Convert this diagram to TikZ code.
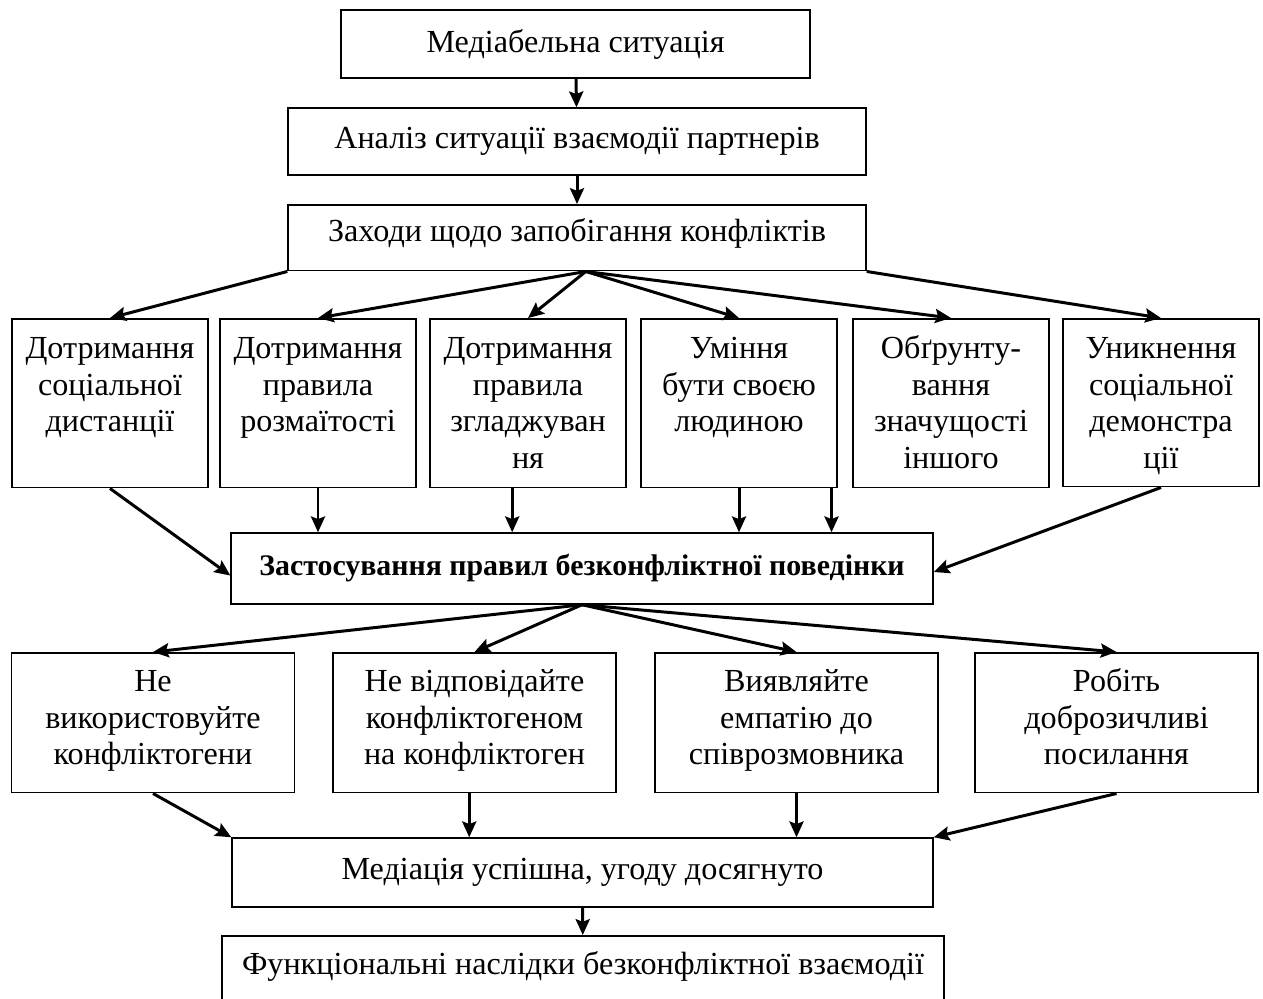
\documentclass[tikz,border=0pt]{standalone}
\usepackage{fontspec}
\setmainfont{Liberation Serif}
\usepackage{tikz}
\usetikzlibrary{positioning,arrows.meta}

\begin{document}
\begin{tikzpicture}[x=0.02cm, y=-0.02cm, >={Stealth[length=9pt,width=8pt,inset=1.5pt]},
  every node/.style={font=\fontsize{18.3}{20.8}\selectfont}]
\tikzset{
  box/.style={
    draw,
    line width=0.85pt,
    align=flush center,
    inner sep=0pt,
  },
  tallbox/.style={
    box,
    anchor=north,
    text width=3.92cm,
    text height=0.8cm,
  },
  widebox/.style={
    box,
    anchor=north,
    text width=5.66cm,
    text height=0.78cm,
    text depth=2.02cm,
  },
  link/.style={->, line width=1.7pt},
}
\useasboundingbox (0,0) rectangle (1263,998);

\node[box, minimum width=9.38cm, minimum height=1.36cm] (situation) at (575.5,44) {Медіабельна ситуація};
\node[box, minimum width=11.56cm, minimum height=1.34cm] (analysis) at (577,141.5) {Аналіз ситуації взаємодії партнерів};
\node[box, anchor=north, text width=11.56cm, text height=0.74cm, text depth=0.58cm] (measures) at (577,204) {Заходи щодо запобігання конфліктів};

\node[tallbox, text depth=2.58cm] (distance) at (110,318) {Дотримання\\соціальної\\дистанції};
\node[tallbox, text depth=2.58cm] (variety) at (318,318) {Дотримання\\правила\\розмаїтості};
\node[tallbox, text depth=2.58cm] (smoothing) at (528,318) {Дотримання\\правила\\згладжуван\\ня};
\node[tallbox, text depth=2.58cm] (oneself) at (739,318) {Уміння\\бути своєю\\людиною};
\node[tallbox, text depth=2.58cm] (grounding) at (951,318) {Обґрунту-\\вання\\значущості\\іншого};
\node[tallbox, text depth=2.56cm] (avoiding) at (1161,318) {Уникнення\\соціальної\\демонстра\\ції};

\node[box, minimum width=14.04cm, minimum height=1.42cm, font=\fontsize{17}{20.8}\selectfont\bfseries] (rules) at (582,568.5) {Застосування правил безконфліктної поведінки};

\node[widebox] (nouse) at (153,652) {Не\\використовуйте\\конфліктогени};
\node[widebox] (noreply) at (474.5,652) {Не відповідайте\\конфліктогеном\\на конфліктоген};
\node[widebox] (empathy) at (796.5,652) {Виявляйте\\емпатію до\\співрозмовника};
\node[widebox] (friendly) at (1116.5,652) {Робіть\\доброзичливі\\посилання};

\node[box, minimum width=14.02cm, minimum height=1.38cm] (success) at (582.5,872.5) {Медіація успішна, угоду досягнуто};
\node[box, anchor=north, text width=14.44cm, text height=0.78cm, text depth=1.1cm] (result) at (583,935) {Функціональні наслідки безконфліктної взаємодії};

\draw[link] (situation) -- (analysis);
\draw[link] (analysis) -- (measures);

\draw[link] (measures.south west) -- (distance.north);
\draw[link] ([xshift=5]measures.south) -- (variety.north);
\draw[link] ([xshift=5]measures.south) -- (smoothing.north);
\draw[link] ([xshift=5]measures.south) -- (oneself.north);
\draw[link] ([xshift=5]measures.south) -- (grounding.north);
\draw[link] (measures.south east) -- (avoiding.north);

\draw[link] (distance.south) -- ([yshift=-4]rules.west);
\draw[link] (variety.south) -- (variety.south |- rules.north);
\draw[link] ([xshift=-9]smoothing.south) -- ([xshift=-9]smoothing.south |- rules.north);
\draw[link] (oneself.south) -- (oneself.south |- rules.north);
\draw[link] ([xshift=-68]grounding.south) -- ([xshift=-68]grounding.south |- rules.north);
\draw[link] (avoiding.south) -- ([yshift=-2]rules.east);

\draw[link] (rules.south) -- (nouse.north);
\draw[link] (rules.south) -- (noreply.north);
\draw[link] (rules.south) -- (empathy.north);
\draw[link] (rules.south) -- (friendly.north);

\draw[link] (nouse.south) -- (success.north west);
\draw[link] ([xshift=-3]noreply.south) -- ([xshift=-3]noreply.south |- success.north);
\draw[link] (empathy.south) -- (empathy.south |- success.north);
\draw[link] (friendly.south) -- (success.north east);

\draw[link] (success) -- (result);

\end{tikzpicture}
\end{document}
